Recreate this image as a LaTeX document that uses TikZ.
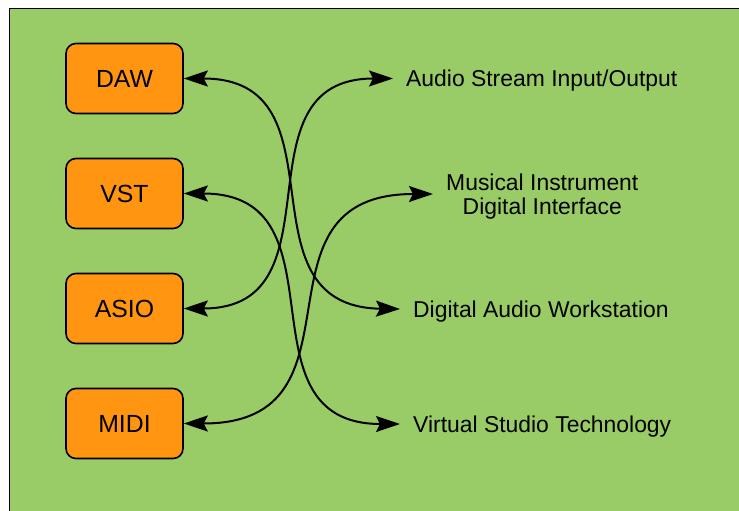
\documentclass[tikz,border=0pt]{standalone}
\usepackage{fontspec}
\setmainfont{Liberation Sans}
\usetikzlibrary{arrows.meta}
\definecolor{bggreen}{RGB}{153,204,102}
\definecolor{boxorange}{RGB}{255,149,16}
\tikzset{
  boxnode/.style={draw=black, line width=1.6pt, fill=boxorange, rounded corners=10pt,
    minimum width=117pt, minimum height=70pt, inner sep=0pt,
    font=\fontsize{24.8pt}{28pt}\selectfont},
  lbl/.style={anchor=west, inner xsep=13pt, inner ysep=0pt, align=center,
    font=\fontsize{22.9pt}{24pt}\selectfont},
  tipstyle/.style={},
  conn/.style={line width=2pt, {Stealth[length=24pt,width=16pt,inset=4pt]}-{Stealth[length=24pt,width=16pt,inset=4pt]}}
}
\begin{document}
\begin{tikzpicture}[x=1pt,y=-1pt]
\path[use as bounding box] (0,0) rectangle (739,511);
\begin{scope}
\clip (0,0) rectangle (739,511);
\fill[white] (0,0) rectangle (739,511);
\draw[fill=bggreen, line width=1pt] (9,9) rectangle (760,530);
\end{scope}
\node[boxnode] (daw)  at (124.5,78.5)  {DAW};
\node[boxnode] (vst)  at (124.5,193.5) {VST};
\node[boxnode] (asio) at (124.5,308.5) {ASIO};
\node[boxnode] (midi) at (124.5,423.5) {MIDI};
\node[lbl] (laudio) at (393,80.5)  {Audio Stream Input/Output};
\node[lbl] (lmidi)  at (433,196.5) {Musical Instrument\\Digital Interface};
\node[lbl] (ldaw)   at (400,311.5) {Digital Audio Workstation};
\node[lbl] (lvst)   at (400,426.5) {Virtual Studio Technology};
\draw[conn] (daw.east) .. controls +(166,0) and +(-166,-2.5) .. ([yshift=2.5pt]ldaw.west);
\draw[conn] (vst.east) .. controls +(166,0) and +(-166,0) .. ([yshift=2.5pt]lvst.west);
\draw[conn] (asio.east) .. controls +(161,0) and +(-161,0) .. ([yshift=2pt]laudio.west);
\draw[conn] (midi.east) .. controls +(192,0) and +(-192,0) .. ([yshift=2.5pt]lmidi.west);
\end{tikzpicture}
\end{document}
